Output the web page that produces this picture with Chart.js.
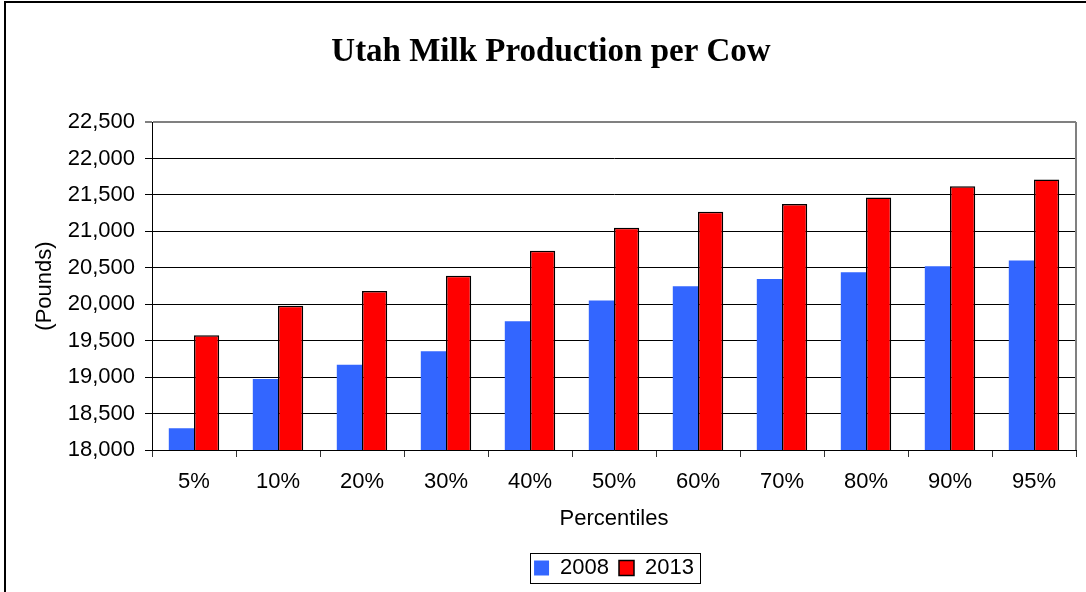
<!DOCTYPE html>
<html>
<head>
<meta charset="utf-8">
<script src="https://cdn.jsdelivr.net/npm/chart.js@4.4.0/dist/chart.umd.min.js"></script>
<style>
  html, body { margin: 0; padding: 0; background: #fff; overflow: hidden; }
  #wrap { position: relative; width: 1086px; height: 592px; }
  #frame { position: absolute; left: 4px; top: 1px; width: 1100px; height: 700px; border: 2px solid #000; }
  canvas { position: absolute; left: 0; top: 0; }
</style>
</head>
<body>
<div id="wrap">
  <div id="frame"></div>
  <canvas id="my-canvas" width="1086" height="592"></canvas>
</div>
<script>
// Categorias y valores (libras por vaca)
const percentiles = ["5%", "10%", "20%", "30%", "40%", "50%", "60%", "70%", "80%", "90%", "95%"]
const prod2008 = [18300, 18975, 19170, 19355, 19765, 20050, 20245, 20345, 20440, 20520, 20600]
const prod2013 = [19575, 19980, 20180, 20390, 20735, 21050, 21270, 21375, 21465, 21620, 21710]
const yMin = 18000
const yMax = 22500
const yStep = 500

const sans = "'Liberation Sans', Arial, sans-serif"
const serif = "'Liberation Serif', 'Times New Roman', serif"

function withCommas(v) {
  return String(v).replace(/\B(?=(\d{3})+(?!\d))/g, ",")
}

// borde derecho gris del area y caja de la leyenda
const extras = {
  id: 'extras',
  afterDraw(chart) {
    const ctx = chart.ctx
    const area = chart.chartArea
    ctx.save()
    ctx.strokeStyle = '#808080'
    ctx.lineWidth = 2
    ctx.beginPath()
    ctx.moveTo(area.right, area.top)
    ctx.lineTo(area.right, area.bottom)
    ctx.stroke()

    const hb = chart.legend.legendHitBoxes
    if (hb && hb.length) {
      const l = Math.min(...hb.map(h => h.left)) - 4
      const r = Math.max(...hb.map(h => h.left + h.width)) + 6
      const t = hb[0].top - 4
      const b = hb[0].top + hb[0].height + 4
      ctx.strokeStyle = '#000'
      ctx.lineWidth = 1
      ctx.strokeRect(Math.round(l) + 0.5, Math.round(t) + 0.5, Math.round(r - l), Math.round(b - t))
    }
    ctx.restore()
  }
}

const canvas = document.getElementById('my-canvas')
const ctx = canvas.getContext('2d')

const data = {
  labels: percentiles,
  datasets: [
    {
      label: "2008",
      data: prod2008,
      backgroundColor: '#3366FF',
      borderWidth: 0
    },
    {
      label: "2013",
      data: prod2013,
      backgroundColor: '#FF0000',
      borderColor: '#000',
      borderWidth: 1.5
    }
  ]
}

const options = {
  responsive: false,
  animation: false,
  layout: { padding: { left: 26, right: 10, top: 0, bottom: 3 } },
  datasets: { bar: { categoryPercentage: 0.6, barPercentage: 1.0 } },
  plugins: {
    tooltip: { enabled: false },
    title: {
      display: true,
      text: 'Utah Milk Production per Cow',
      color: '#000',
      font: { family: serif, size: 33, weight: 'bold' },
      padding: { top: 33, bottom: 49.4 }
    },
    legend: {
      position: 'bottom',
      fullSize: false,
      labels: {
        color: '#000',
        font: { family: sans, size: 22 },
        boxWidth: 15,
        boxHeight: 15,
        padding: 10
      }
    }
  },
  scales: {
    x: {
      afterFit(scale) { scale.height = 97 },
      grid: { drawOnChartArea: false, offset: true, tickLength: 7, color: '#333' },
      border: { color: '#000', width: 1 },
      ticks: { color: '#000', font: { family: sans, size: 22 }, padding: 12, maxRotation: 0 },
      title: {
        display: true,
        text: 'Percentiles',
        color: '#000',
        font: { family: sans, size: 22 },
        padding: { top: 0, bottom: 15 }
      }
    },
    y: {
      min: yMin,
      max: yMax,
      afterFit(scale) { scale.width = 126 },
      grid: {
        color: c => (c.tick && c.tick.value === yMax) ? '#808080' : '#000',
        lineWidth: c => (c.tick && c.tick.value === yMax) ? 2 : 1,
        tickLength: 7
      },
      border: { color: '#000', width: 1 },
      ticks: {
        stepSize: yStep,
        color: '#000',
        font: { family: sans, size: 22 },
        padding: 10,
        callback: v => withCommas(v)
      },
      title: {
        display: true,
        text: '(Pounds)',
        color: '#000',
        font: { family: sans, size: 22 },
        padding: { top: 6, bottom: 0 }
      }
    }
  }
}

const milkChart = new Chart(ctx, {
  type: 'bar',
  data: data,
  options: options,
  plugins: [extras]
})
</script>
</body>
</html>
